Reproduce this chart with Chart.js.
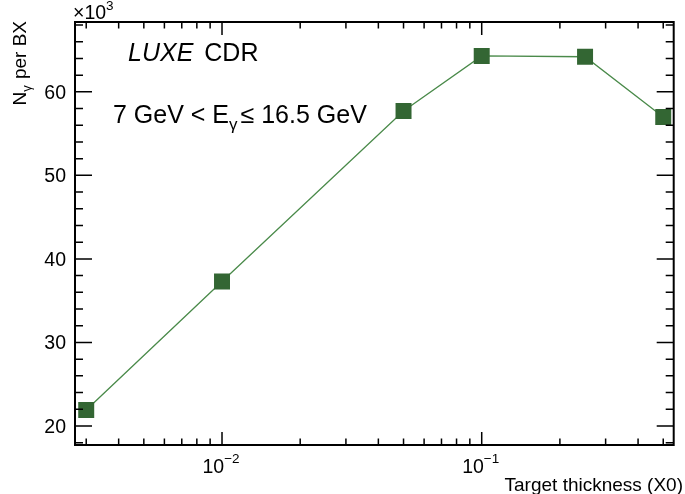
<!DOCTYPE html>
<html lang="en">
<head>
<meta charset="UTF-8">
<title>LUXE CDR - photons per BX</title>
<script src="https://cdn.jsdelivr.net/npm/chart.js"></script>
<style>
  html, body { margin: 0; padding: 0; background: #fff; }
  #wrap { width: 685px; height: 494px; }
</style>
</head>
<body>
<div id="wrap"><canvas id="chart"></canvas></div>
<script>
  // target thickness (X0) and photons per BX (in units of 10^3)
  const thickness = [0.003, 0.01, 0.05, 0.1, 0.25, 0.5];
  const nPhotons = [21.9, 37.3, 57.7, 64.3, 64.2, 57.0];

  const yTicks = [20, 30, 40, 50, 60];
  const xMajor = [0.01, 0.1];
  const xMajorExp = ["\u22122", "\u22121"];

  const FONT = '"Liberation Sans", Arial, Helvetica, sans-serif';

  // draw a run of text pieces: {t, size, dy, italic, gap}
  function drawParts(ctx, x, y, parts, align) {
    let w = 0;
    parts.forEach(p => {
      ctx.font = (p.italic ? "italic " : "") + p.size + "px " + FONT;
      p.w = ctx.measureText(p.t).width + (p.gap || 0);
      w += p.w;
    });
    let cx = align === "right" ? x - w : align === "center" ? x - w / 2 : x;
    ctx.textAlign = "left";
    ctx.textBaseline = "alphabetic";
    parts.forEach(p => {
      ctx.font = (p.italic ? "italic " : "") + p.size + "px " + FONT;
      ctx.fillText(p.t, cx, y + (p.dy || 0));
      cx += p.w;
    });
  }

  const frame = {
    id: "frame",
    afterDatasetsDraw(chart) {
      const ctx = chart.ctx;
      const a = chart.chartArea;
      const xs = chart.scales.x, ys = chart.scales.y;
      ctx.save();
      ctx.strokeStyle = "#000";
      ctx.fillStyle = "#000";

      // y ticks, left and right, every 2 units
      ctx.lineWidth = 1.5;
      ctx.beginPath();
      for (let v = 18; v <= 68; v += 2) {
        const py = ys.getPixelForValue(v);
        const len = v % 10 === 0 ? 17 : 8;
        ctx.moveTo(a.left, py); ctx.lineTo(a.left + len, py);
        ctx.moveTo(a.right, py); ctx.lineTo(a.right - len, py);
      }
      // x ticks, bottom and top
      for (let d = 0.001; d < 1; d *= 10) {
        for (let m = 1; m <= 9; m++) {
          const v = d * m;
          if (v < xs.min || v > xs.max) continue;
          const px = xs.getPixelForValue(v);
          const len = m === 1 ? 13 : 6.5;
          ctx.moveTo(px, a.bottom); ctx.lineTo(px, a.bottom - len);
          ctx.moveTo(px, a.top); ctx.lineTo(px, a.top + len);
        }
      }
      ctx.stroke();

      // frame
      ctx.lineWidth = 2;
      ctx.strokeRect(a.left, a.top, a.right - a.left, a.bottom - a.top);

      // y labels
      yTicks.forEach(v => {
        drawParts(ctx, 66, ys.getPixelForValue(v) + 7, [{ t: String(v), size: 19.5 }], "right");
      });
      // x labels
      xMajor.forEach((v, i) => {
        drawParts(ctx, xs.getPixelForValue(v) - 1, 473, [
          { t: "10", size: 19.5 },
          { t: xMajorExp[i], size: 13.5, dy: -10 }
        ], "center");
      });

      // multiplier
      drawParts(ctx, 73, 19, [
        { t: "\u00d710", size: 19.5 },
        { t: "3", size: 13.5, dy: -9 }
      ], "left");

      // x title
      drawParts(ctx, 683, 491, [{ t: "Target thickness (X0)", size: 19 }], "right");

      // y title (rotated)
      ctx.save();
      ctx.translate(26, 21);
      ctx.rotate(-Math.PI / 2);
      drawParts(ctx, 0, 0, [
        { t: "N", size: 19 },
        { t: "\u03b3", size: 13, dy: 5, gap: 1 },
        { t: " per BX", size: 19 }
      ], "right");
      ctx.restore();

      // annotations
      drawParts(ctx, 128, 61, [
        { t: "LUXE", size: 25, italic: true, gap: 11 },
        { t: "CDR", size: 25 }
      ], "left");
      drawParts(ctx, 113, 123, [
        { t: "7 GeV < E", size: 25 },
        { t: "\u03b3", size: 17, dy: 7, gap: 3 },
        { t: "\u2264 16.5 GeV", size: 25 }
      ], "left");

      ctx.restore();
    }
  };

  new Chart(document.getElementById("chart"), {
    type: "scatter",
    data: {
      datasets: [{
        data: thickness.map((x, i) => ({ x, y: nPhotons[i] })),
        showLine: true,
        borderColor: "#4a8a4a",
        borderWidth: 1.3,
        pointStyle: "rect",
        pointRadius: 11.3,
        pointBackgroundColor: "#336633",
        pointBorderColor: "#336633",
        pointBorderWidth: 0,
        pointHoverRadius: 11.3
      }]
    },
    options: {
      responsive: true,
      maintainAspectRatio: false,
      animation: false,
      layout: { padding: { left: 75, right: 3, top: 22, bottom: 49 } },
      plugins: { legend: { display: false }, tooltip: { enabled: false } },
      scales: {
        x: { type: "logarithmic", min: 0.002716, max: 0.5486, display: false },
        y: { type: "linear", min: 17.72, max: 68.36, display: false }
      }
    },
    plugins: [frame]
  });
</script>
</body>
</html>
